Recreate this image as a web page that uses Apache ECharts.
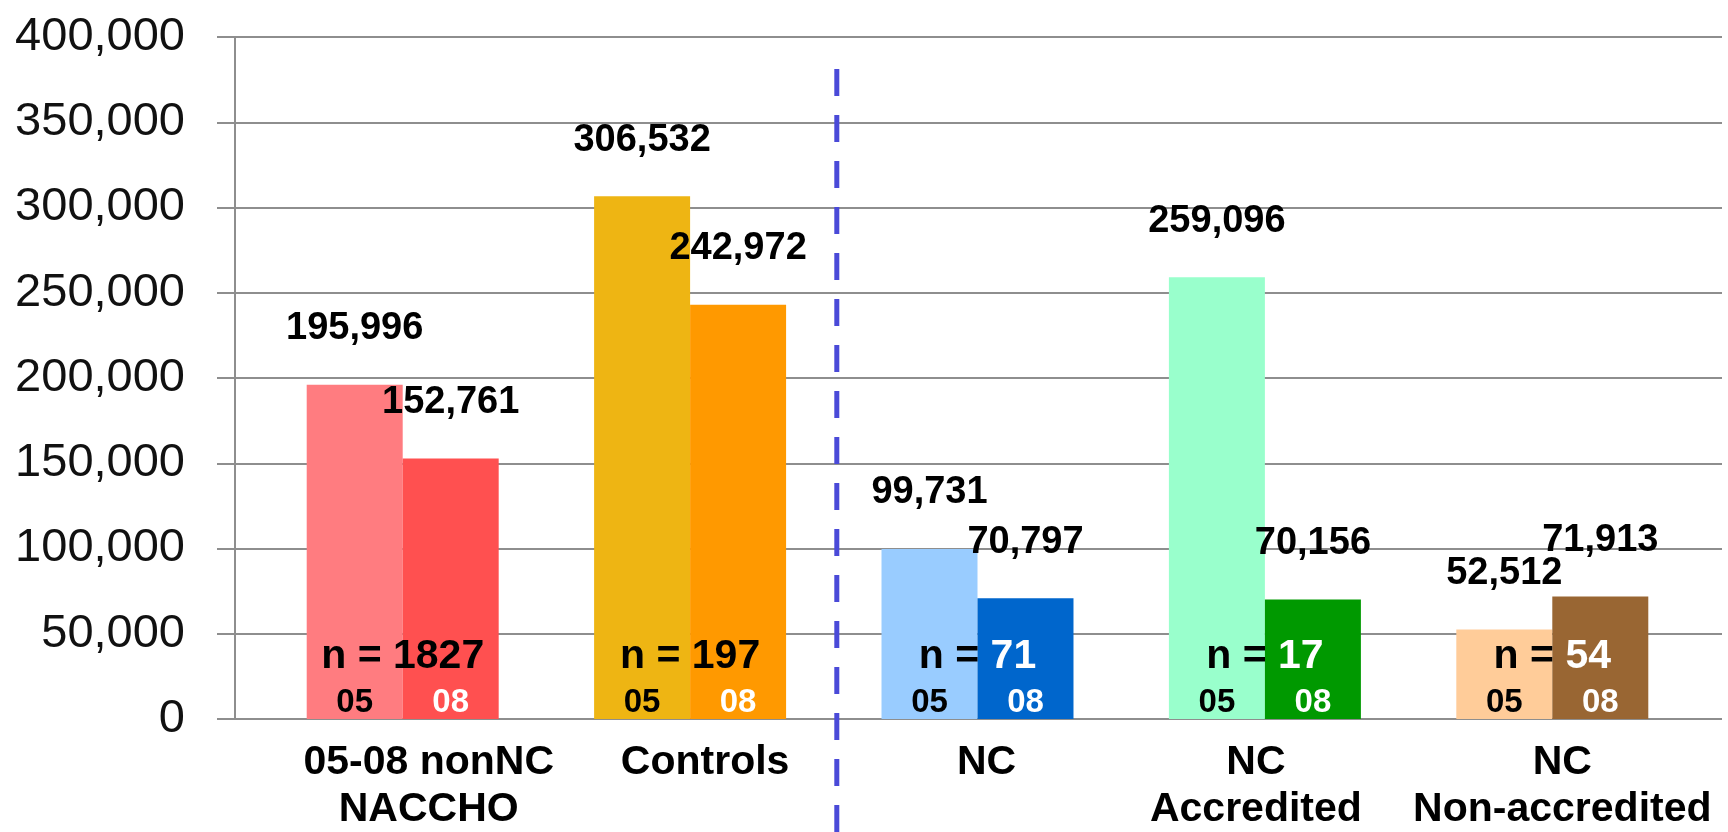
<!DOCTYPE html>
<html>
<head>
<meta charset="utf-8">
<title>Jurisdiction population, 05 vs 08</title>
<script src="https://cdn.jsdelivr.net/npm/echarts@6/dist/echarts.min.js"></script>
<style>
  html, body { margin: 0; padding: 0; background: #fff; }
  #chart { width: 1728px; height: 832px; }
</style>
</head>
<body>
<div id="chart"></div>
<script>
  // groups along the x axis
  var categories = ['05-08 nonNC\nNACCHO', 'Controls', 'NC', 'NC\nAccredited', 'NC\nNon-accredited'];
  var yearNames = ['05', '08'];
  var values05 = [195996, 306532, 99731, 259096, 52512];
  var values08 = [152761, 242972, 70797, 70156, 71913];
  var groupSizes = [1827, 197, 71, 17, 54];
  // y axis ticks
  var yMin = 0;
  var yMax = 400000;
  var yStep = 50000;

  var colors05 = ['#FF7C80', '#EEB513', '#99CCFF', '#99FFCC', '#FFCC99'];
  var colors08 = ['#FF5050', '#FF9900', '#0066CC', '#009900', '#996633'];
  var sizeColors = ['#000', '#000', '#fff', '#fff', '#fff'];
  // the category captions were placed by hand, a little off centre
  var captionShift = [26, 15, 9, -9, 10];

  var FONT = '"Liberation Sans", Arial, sans-serif';
  var GRID_COLOR = '#8e8e8e';
  var BAR_WIDTH = 0.334;

  function fmt(v) {
    return Number(v).toLocaleString('en-US');
  }

  function barSeries(name, values, colors) {
    return {
      name: name,
      type: 'bar',
      xAxisIndex: 1,
      yAxisIndex: 1,
      barWidth: (BAR_WIDTH * 100) + '%',
      barGap: '0%',
      z: 2,
      data: values.map(function (v, i) {
        return {value: v, itemStyle: {color: colors[i]}};
      }),
      label: {
        show: true,
        position: 'top',
        distance: 37,
        formatter: function (p) { return fmt(p.value); },
        fontFamily: FONT,
        fontWeight: 'bold',
        fontSize: 38,
        lineHeight: 38,
        color: '#000'
      }
    };
  }

  var captionRich = {};
  captionShift.forEach(function (s, i) {
    captionRich['c' + i] = {
      fontFamily: FONT,
      fontWeight: 'bold',
      fontSize: 41,
      lineHeight: 47,
      color: '#000',
      padding: s >= 0 ? [0, 0, 0, 2 * s] : [0, -2 * s, 0, 0]
    };
  });

  var chart = echarts.init(document.getElementById('chart'));

  chart.setOption({
    animation: false,
    backgroundColor: '#fff',
    grid: [
      // axis frame (y axis line, ticks and gridlines)
      {left: 235, right: 6, top: 37, bottom: 113, outerBoundsMode: 'none', containLabel: false},
      // where the bars sit
      {left: 259, right: 32, top: 37, bottom: 113, outerBoundsMode: 'none', containLabel: false}
    ],
    xAxis: [
      {gridIndex: 0, type: 'value', min: 0, max: 1, show: false},
      {
        gridIndex: 1,
        type: 'category',
        data: categories,
        axisLine: {show: false},
        axisTick: {show: false},
        axisLabel: {
          interval: 0,
          margin: 20,
          fontFamily: FONT,
          fontWeight: 'bold',
          fontSize: 41,
          lineHeight: 47,
          color: '#000',
          formatter: function (value, index) {
            return value.split('\n').map(function (line) {
              return '{c' + index + '|' + line + '}';
            }).join('\n');
          },
          rich: captionRich
        }
      }
    ],
    yAxis: [
      {
        gridIndex: 0,
        type: 'value',
        min: yMin,
        max: yMax,
        interval: yStep,
        axisLine: {show: true, lineStyle: {color: GRID_COLOR, width: 2}},
        axisTick: {show: true, length: 18, lineStyle: {color: GRID_COLOR, width: 2}},
        splitLine: {show: true, lineStyle: {color: GRID_COLOR, width: 2}},
        axisLabel: {
          margin: 50,
          fontFamily: FONT,
          fontSize: 47,
          color: '#111',
          formatter: fmt
        }
      },
      {gridIndex: 1, type: 'value', min: yMin, max: yMax, show: false}
    ],
    series: [
      barSeries(yearNames[0], values05, colors05),
      barSeries(yearNames[1], values08, colors08),
      {
        // "n = ..." and the 05 / 08 tags inside each pair of bars
        type: 'custom',
        xAxisIndex: 1,
        yAxisIndex: 1,
        z: 3,
        data: groupSizes.map(function (n, i) { return [i, n]; }),
        renderItem: function (params, api) {
          var i = api.value(0);
          var base = api.coord([i, 0]);
          var bw = api.size([1, 0])[0] * BAR_WIDTH;
          var tag = {fontFamily: FONT, fontWeight: 'bold', fontSize: 33,
                     align: 'center', verticalAlign: 'middle'};
          return {
            type: 'group',
            children: [
              {
                type: 'text',
                x: base[0],
                y: base[1] - 62,
                style: {
                  text: '{a|n = }{b|' + api.value(1) + '}',
                  align: 'center',
                  verticalAlign: 'middle',
                  rich: {
                    a: {fontFamily: FONT, fontWeight: 'bold', fontSize: 41, fill: '#000'},
                    b: {fontFamily: FONT, fontWeight: 'bold', fontSize: 41, fill: sizeColors[i]}
                  }
                }
              },
              {
                type: 'text',
                x: base[0] - bw / 2,
                y: base[1] - 16,
                style: Object.assign({text: yearNames[0], fill: '#000'}, tag)
              },
              {
                type: 'text',
                x: base[0] + bw / 2,
                y: base[1] - 16,
                style: Object.assign({text: yearNames[1], fill: '#fff'}, tag)
              }
            ]
          };
        }
      }
    ]
  });

  // blue dashed divider between Controls and the NC groups
  var xa = chart.convertToPixel({xAxisIndex: 1}, 1);
  var xb = chart.convertToPixel({xAxisIndex: 1}, 2);
  var divX = (xa + xb) / 2 + 3;
  chart.setOption({
    graphic: [{
      type: 'line',
      z: 10,
      shape: {x1: divX, y1: 69, x2: divX, y2: 832},
      style: {stroke: '#4a4ad8', lineWidth: 5, lineDash: [27, 19]}
    }]
  });
</script>
</body>
</html>
